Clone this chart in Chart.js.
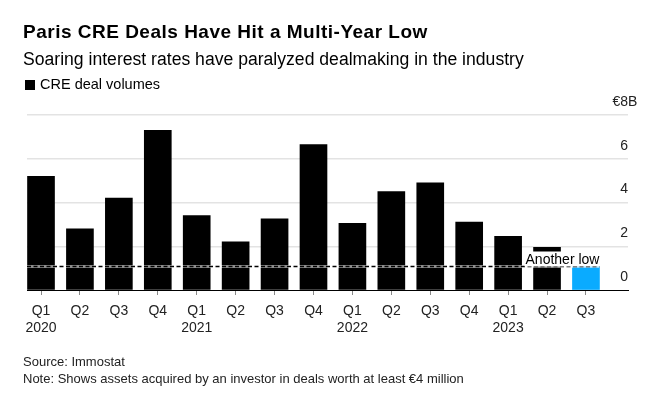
<!DOCTYPE html>
<html>
<head>
<meta charset="utf-8">
<script src="https://cdn.jsdelivr.net/npm/chart.js"></script>
<style>
  body { margin: 0; background: #fff; font-family: "Liberation Sans", Arial, sans-serif; color: #000; }
  #wrap { position: relative; width: 658px; height: 397px; overflow: hidden; }
  #chart { position: absolute; left: 0; top: 0; }
  .txt { position: absolute; left: 23px; white-space: nowrap; }
  .title { top: 22px; font-size: 19px; font-weight: bold; line-height: 20px; letter-spacing: 0.5px; }
  .subtitle { top: 49px; font-size: 17.6px; line-height: 20px; }
  .legend { top: 75px; left: 25px; font-size: 14.5px; line-height: 18px; }
  .legend i { display: inline-block; width: 10px; height: 10px; background: #000; margin-right: 5px; vertical-align: -1px; }
  .foot { font-size: 13px; line-height: 15px; color: #222; }
</style>
</head>
<body>
<div id="wrap">
  <canvas id="chart" width="658" height="397"></canvas>
  <div class="txt title">Paris CRE Deals Have Hit a Multi-Year Low</div>
  <div class="txt subtitle">Soaring interest rates have paralyzed dealmaking in the industry</div>
  <div class="txt legend"><i></i>CRE deal volumes</div>
  <div class="txt foot" style="top:354px">Source: Immostat</div>
  <div class="txt foot" style="top:371px">Note: Shows assets acquired by an investor in deals worth at least €4 million</div>
</div>
<script>
"use strict";

// quarters + year line under Q1
const quarters = ["Q1", "Q2", "Q3", "Q4", "Q1", "Q2", "Q3", "Q4", "Q1", "Q2", "Q3", "Q4", "Q1", "Q2", "Q3"];
const years = ["2020", "", "", "", "2021", "", "", "", "2022", "", "", "", "2023", "", ""];
// deal volumes, €B
const volumes = [5.2, 2.8, 4.2, 7.3, 3.4, 2.2, 3.25, 6.65, 3.05, 4.5, 4.9, 3.1, 2.45, 1.95, 1.1];
const yTicks = [0, 2, 4, 6, 8];
const lowLabel = "Another low";

const barColors = volumes.map((v, i) => (i === volumes.length - 1 ? "#0aabff" : "#000"));
const points = volumes.map((v, i) => ({ x: i, y: v }));
const lowValue = volumes[volumes.length - 1];
const barWidth = 27;

//dashed "low" line, annotation and the €8B unit label
const extras = {
  id: "extras",
  afterDatasetsDraw(chart) {
    const { ctx, chartArea, scales } = chart;
    const x = scales.x;
    const y = scales.y;
    const yLow = Math.round(y.getPixelForValue(lowValue)) + 0.5;
    const xEnd = x.getPixelForValue(volumes.length - 1) + barWidth / 2;

    ctx.save();
    ctx.beginPath();
    ctx.moveTo(chartArea.left, yLow);
    ctx.lineTo(xEnd, yLow);
    ctx.strokeStyle = "rgba(255,255,255,0.55)";
    ctx.lineWidth = 3;
    ctx.stroke();
    ctx.setLineDash([4, 2.5]);
    ctx.strokeStyle = "#000";
    ctx.lineWidth = 1.5;
    ctx.stroke();
    ctx.setLineDash([]);

    ctx.font = "14px 'Liberation Sans', Arial, sans-serif";
    ctx.textAlign = "right";
    ctx.textBaseline = "alphabetic";
    const w = ctx.measureText(lowLabel).width;
    const base = yLow - 3;
    ctx.fillStyle = "#fff";
    ctx.fillRect(xEnd - w - 1, base - 12, w + 2, 15);
    ctx.fillStyle = "#000";
    ctx.fillText(lowLabel, xEnd, base);

    // top tick as €8B, digit aligned with the other ticks
    const yTop = y.getPixelForValue(8) - 13;
    ctx.fillStyle = "#222";
    ctx.textBaseline = "middle";
    ctx.fillText("€8", chartArea.right, yTop);
    ctx.textAlign = "left";
    ctx.fillText("B", chartArea.right, yTop);
    ctx.restore();
  },
};

const myChart = new Chart(document.getElementById("chart").getContext("2d"), {
  type: "bar",
  data: {
    datasets: [
      {
        label: "CRE deal volumes",
        data: points,
        backgroundColor: barColors,
        barThickness: barWidth,
        borderWidth: 0,
      },
    ],
  },
  options: {
    responsive: false,
    animation: false,
    devicePixelRatio: 1,
    layout: { padding: { left: 27, right: 30, top: 115, bottom: 57 } },
    plugins: { legend: { display: false }, tooltip: { enabled: false } },
    scales: {
      x: {
        type: "linear",
        offset: false,
        min: -0.36,
        max: 15.08,
        afterBuildTicks: (scale) => {
          scale.ticks = quarters.map((q, i) => ({ value: i }));
        },
        afterFit: (scale) => {
          scale.height = 50;
        },
        grid: { offset: false, drawOnChartArea: false, drawTicks: true, tickLength: 5, color: "#888", lineWidth: 1 },
        border: { display: true, color: "#000", width: 1 },
        ticks: {
          autoSkip: false,
          maxRotation: 0,
          padding: 8,
          color: "#222",
          font: { family: "'Liberation Sans', Arial, sans-serif", size: 14, lineHeight: 1.2 },
          callback: (value) => (years[value] ? [quarters[value], years[value]] : quarters[value]),
        },
      },
      y: {
        position: "right",
        min: 0,
        max: 8,
        afterBuildTicks: (scale) => {
          scale.ticks = yTicks.map((v) => ({ value: v }));
        },
        afterFit: (scale) => {
          scale.width = 0;
        },
        grid: {
          drawTicks: false,
          color: (c) => (c.tick.value === 0 ? "#000" : "#e3e3e3"),
          lineWidth: (c) => (c.tick.value === 0 ? 1 : 1.5),
        },
        border: { display: false },
        ticks: {
          mirror: true,
          padding: 0,
          labelOffset: -13,
          color: "#222",
          font: { family: "'Liberation Sans', Arial, sans-serif", size: 14 },
          callback: (value) => (value === 8 ? "" : value),
        },
      },
    },
  },
  plugins: [extras],
});
</script>
</body>
</html>
